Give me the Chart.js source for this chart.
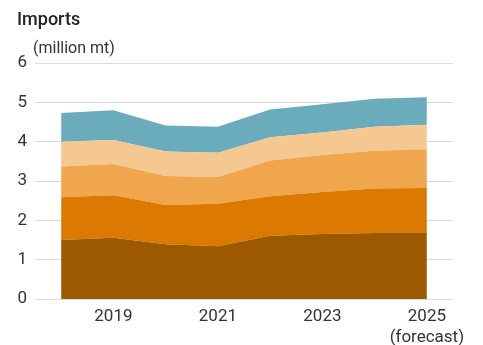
<!DOCTYPE html>
<html>
<head>
<meta charset="utf-8">
<script src="https://cdn.jsdelivr.net/npm/chart.js@4"></script>
<style>
  html, body { margin: 0; padding: 0; background: #fff; }
  #wrap { width: 483px; height: 345px; position: relative; }
</style>
</head>
<body>
<div id="wrap"><canvas id="c" width="483" height="345"></canvas></div>
<script>
// Years on the x axis; the last one is a forecast
const years = ['2018', '2019', '2020', '2021', '2022', '2023', '2024', ['2025', '(forecast)']];

// Stacked import components (million mt), bottom to top
const seriesA = [1.50, 1.56, 1.39, 1.34, 1.61, 1.65, 1.68, 1.68];
const seriesB = [1.09, 1.08, 1.00, 1.08, 1.00, 1.07, 1.13, 1.14];
const seriesC = [0.78, 0.79, 0.74, 0.68, 0.91, 0.94, 0.96, 0.99];
const seriesD = [0.63, 0.61, 0.62, 0.62, 0.59, 0.57, 0.61, 0.62];
const seriesE = [0.73, 0.76, 0.66, 0.66, 0.71, 0.72, 0.71, 0.70];

const yTicks = [0, 1, 2, 3, 4, 5, 6];

const layers = [
  { data: seriesA, color: '#9d5900' },
  { data: seriesB, color: '#dc7900' },
  { data: seriesC, color: '#f0a64c' },
  { data: seriesD, color: '#f5c891' },
  { data: seriesE, color: '#6aabbc' }
];

const FONT = 'Roboto, "Liberation Sans", sans-serif';

const headings = {
  id: 'headings',
  afterDraw(chart) {
    const ctx = chart.ctx;
    ctx.save();
    ctx.fillStyle = '#222';
    ctx.textBaseline = 'alphabetic';
    ctx.textAlign = 'left';
    ctx.font = '500 18px ' + FONT;
    ctx.fillText('Imports', 17, 25);
    ctx.fillStyle = '#333';
    ctx.font = '16px ' + FONT;
    ctx.fillText('(million mt)', 33, 53);
    ctx.restore();
  }
};

new Chart(document.getElementById('c'), {
  type: 'line',
  data: {
    labels: years,
    datasets: layers.map((l, i) => ({
      data: l.data,
      backgroundColor: l.color,
      borderColor: l.color,
      borderWidth: 0,
      pointRadius: 0,
      pointHoverRadius: 0,
      tension: 0,
      fill: i === 0 ? 'origin' : '-1'
    }))
  },
  options: {
    responsive: false,
    animation: false,
    events: [],
    layout: { padding: { top: 63, right: 30, left: 0, bottom: 0 } },
    plugins: {
      legend: { display: false },
      tooltip: { enabled: false }
    },
    scales: {
      x: {
        offset: true,
        grid: { display: false },
        border: { display: false },
        ticks: {
          autoSkip: false,
          maxRotation: 0,
          padding: 0,
          color: '#333',
          font: { family: FONT, size: 17, lineHeight: 1.2 },
          callback: function (value, index) {
            return index % 2 === 1 ? this.getLabelForValue(value) : '';
          }
        },
        afterFit(scale) { scale.height = 46; }
      },
      y: {
        stacked: true,
        min: 0,
        max: 6,
        afterBuildTicks(scale) { scale.ticks = yTicks.map(v => ({ value: v })); },
        grid: { color: '#dcdcdc', lineWidth: 1, drawTicks: false },
        border: { display: false },
        ticks: {
          padding: 8,
          color: '#333',
          font: { family: FONT, size: 17 }
        },
        afterFit(scale) { scale.width = 35; }
      }
    }
  },
  plugins: [headings]
});
</script>
</body>
</html>
